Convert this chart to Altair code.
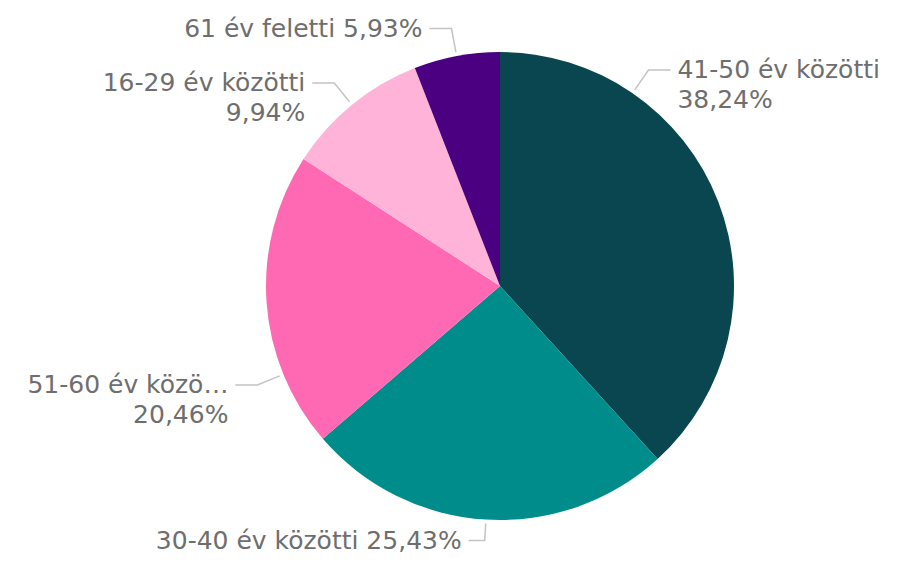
import math
import altair as alt
import pandas as pd

# ---- data ----
categories = ["41-50 év közötti", "30-40 év közötti", "51-60 év közötti",
              "16-29 év közötti", "61 év feletti"]
shares = [38.24, 25.43, 20.46, 9.94, 5.93]

# ---- style / layout ----
colors = ["#0A4650", "#008C8A", "#FF69B4", "#FFB3D9", "#4B0082"]
label_side = ["right", "left", "left", "left", "left"]
label_two_lines = [True, False, True, True, False]
label_name_display = ["41-50 év közötti", "30-40 év közötti", "51-60 év közö…",
                      "16-29 év közötti", "61 év feletti"]
anchor_override = {"41-50 év közötti": 34.5, "51-60 év közötti": 247.8}
elbow_extra = {"30-40 év közötti": 21}
hlen_override = {"30-40 év közötti": 16}

W, H = 886, 546
CX, CY, R = 492, 278, 234
FONT = "DejaVu Sans"
FONT_SIZE = 25
TEXT_COLOR = "#6E6E6E"
LINE_COLOR = "#C4C4C4"


def fmt(v):
    return f"{v:.2f}%".replace(".", ",")


def pt(angle_deg, r):
    a = math.radians(angle_deg)
    return CX + r * math.sin(a), CY - r * math.cos(a)


pie_df = pd.DataFrame({"category": categories, "share": shares,
                       "order": list(range(len(categories)))})

line_rows, text_rows = [], []
cum = 0.0
for i, (cat, v) in enumerate(zip(categories, shares)):
    start = cum * 3.6
    mid = start + v * 1.8
    cum += v
    ang = anchor_override.get(cat, mid)
    p0 = pt(ang, R + 4)
    p1 = pt(ang, R + elbow_extra.get(cat, 28))
    sgn = 1 if label_side[i] == "right" else -1
    p2 = (p1[0] + sgn * hlen_override.get(cat, 22), p1[1])
    for j, p in enumerate([p0, p1, p2]):
        line_rows.append({"category": cat, "idx": j, "x": p[0], "y": p[1]})
    if label_two_lines[i]:
        lines = [label_name_display[i], fmt(v)]
    else:
        lines = [f"{label_name_display[i]} {fmt(v)}"]
    text_rows.append({"category": cat, "lines": lines,
                      "x": p2[0] + sgn * 7, "y": p2[1], "side": label_side[i]})

line_df = pd.DataFrame(line_rows)
text_df = pd.DataFrame(text_rows)

xs = alt.Scale(domain=[0, W], nice=False, zero=False)
ys = alt.Scale(domain=[0, H], nice=False, zero=False, reverse=True)

arc = alt.Chart(pie_df).mark_arc(outerRadius=R).encode(
    theta=alt.Theta("share:Q", stack=True),
    color=alt.Color("category:N", scale=alt.Scale(domain=categories, range=colors), legend=None),
    order=alt.Order("order:Q"),
    x=alt.value(CX),
    y=alt.value(CY),
)

leaders = alt.Chart(line_df).mark_line(color=LINE_COLOR, strokeWidth=1.5).encode(
    x=alt.X("x:Q", scale=xs, axis=None),
    y=alt.Y("y:Q", scale=ys, axis=None),
    detail="category:N",
    order="idx:Q",
)

def text_layer(side, align):
    return alt.Chart(text_df).transform_filter(
        alt.datum.side == side
    ).mark_text(align=align, baseline="middle", font=FONT, fontSize=FONT_SIZE,
                color=TEXT_COLOR, lineHeight=30).encode(
        x=alt.X("x:Q", scale=xs, axis=None),
        y=alt.Y("y:Q", scale=ys, axis=None),
        text="lines",
    )

chart = alt.layer(
    arc, leaders, text_layer("right", "left"), text_layer("left", "right")
).properties(
    width=W, height=H, padding=0, autosize="none", background="white"
).configure_view(stroke=None)

chart.save("out.html", embed_options={"renderer": "svg", "actions": False})
